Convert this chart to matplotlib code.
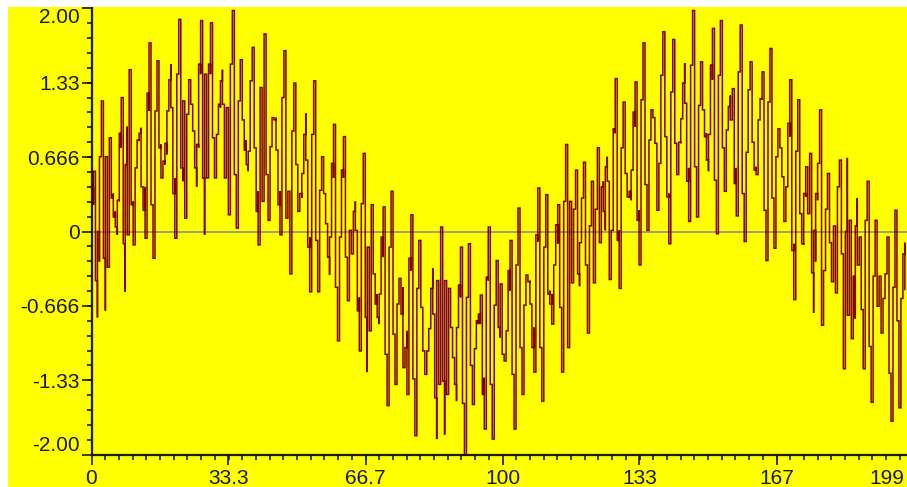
import numpy as np
import matplotlib.pyplot as plt
from matplotlib.patches import Rectangle
from matplotlib.ticker import MultipleLocator
from matplotlib.transforms import ScaledTranslation

# (low, high) of each vertical stroke, read left to right
part1 = [(0.15, 0.39), (0.24, 0.54), (-0.44, 0.21), (-0.77, 0.00), (-0.27, 0.67), (0.67, 1.17),
         (-0.24, 0.69), (-0.71, 0.67), (-0.32, 0.45), (0.36, 0.84), (0.30, 0.69), (0.13, 0.34),
         (0.04, 0.18), (-0.03, 0.28), (0.27, 0.88), (0.75, 1.20), (-0.11, 0.75), (-0.54, 0.60),
         (-0.03, 0.94), (0.94, 1.45), (0.24, 1.05), (-0.12, 0.27), (0.12, 0.57), (0.57, 0.82),
         (0.81, 0.88), (0.40, 0.93), (0.19, 0.40), (-0.06, 0.40), (0.40, 1.24), (1.08, 1.69),
         (0.24, 1.20)]
part2 = [(-0.24, 0.24), (0.24, 1.08), (1.08, 1.53), (0.75, 1.26), (0.48, 0.78), (0.57, 0.63),
         (0.60, 0.79), (0.69, 1.08), (1.08, 1.36), (1.11, 1.50), (0.34, 1.11), (-0.06, 0.48),
         (0.45, 1.41), (1.41, 1.90), (0.57, 1.45), (0.45, 1.17), (0.12, 0.57), (0.45, 1.05),
         (1.05, 1.36), (1.14, 1.27), (0.90, 1.12), (0.57, 0.90), (0.40, 0.78), (0.75, 1.50),
         (1.41, 1.89), (0.48, 1.41), (-0.03, 1.41), (0.48, 1.41), (1.41, 1.50), (1.41, 1.87),
         (0.84, 1.50), (0.48, 0.84), (0.63, 0.87), (0.87, 1.14), (1.11, 1.35), (1.14, 1.45),
         (0.48, 1.14)]
part3 = [(0.48, 1.11), (0.15, 0.63), (0.63, 1.50), (1.50, 1.98), (0.51, 1.48), (0.03, 0.51),
         (0.42, 1.17), (1.17, 1.54), (1.00, 1.33), (0.73, 1.00), (0.60, 0.82), (0.54, 0.72),
         (0.81, 1.35), (1.35, 1.65), (0.75, 1.35), (0.18, 0.75), (-0.12, 0.36), (0.36, 1.29),
         (0.27, 1.29), (1.32, 1.77), (0.51, 1.33), (0.10, 0.51), (0.34, 0.76), (0.76, 1.02),
         (1.00, 1.02), (0.73, 1.02), (0.24, 0.73), (-0.03, 0.36), (0.36, 1.20), (1.20, 1.62),
         (0.12, 1.11), (0.12, 0.36), (-0.38, 0.12), (0.09, 0.90), (0.90, 1.33), (0.60, 1.05)]
part4 = [(0.18, 0.46), (0.22, 0.34), (0.30, 0.52), (0.52, 0.87), (0.64, 1.06), (-0.14, 0.64),
         (-0.54, -0.05), (-0.05, 0.87), (0.87, 1.35), (-0.08, 0.85), (-0.54, -0.08), (-0.23, 0.37),
         (0.37, 0.67), (0.34, 0.55), (0.07, 0.34), (-0.23, 0.07), (-0.39, -0.05), (-0.05, 0.61),
         (0.48, 0.96), (-0.50, 0.48), (-0.98, -0.50), (-0.66, -0.05), (-0.05, 0.55), (0.48, 0.85),
         (-0.23, 0.48), (-0.62, -0.23), (-0.46, 0.01), (-0.20, 0.01), (-0.08, 0.18), (0.01, 0.27),
         (-0.71, -0.08), (-1.07, -0.59), (-0.59, 0.25), (0.25, 0.70)]
part5 = [(-0.77, 0.21), (-1.26, -0.14), (-0.89, -0.14), (-0.14, 0.24), (-0.38, 0.03), (-0.65, -0.38),
         (-0.77, -0.56), (-0.83, -0.56), (-0.56, -0.05), (-0.23, 0.22), (-1.10, -0.23), (-1.56, -1.10),
         (-1.10, -0.14), (-0.11, 0.36), (-0.92, -0.11), (-1.37, -0.92), (-1.13, -0.65), (-0.65, -0.42),
         (-0.74, -0.47), (-1.22, -0.50), (-1.22, -1.04), (-1.46, -0.89), (-0.89, -0.24), (-0.35, 0.15),
         (-1.32, -0.35), (-1.83, -1.32), (-1.38, -0.51), (-0.51, -0.08), (-0.68, -0.29), (-1.07, -0.68),
         (-1.28, -1.07), (-1.19, -1.07), (-1.07, -0.87), (-0.87, -0.51)]
part6 = [(-0.74, -0.33), (-1.49, -0.74), (-1.86, -0.44), (-1.37, -0.44), (-0.44, 0.04), (-1.34, -0.44),
         (-1.82, -0.44), (-1.46, -0.83), (-0.83, -0.51), (-0.86, -0.65), (-1.13, -0.86), (-1.37, -1.13),
         (-1.52, -0.86), (-0.86, -0.48), (-0.59, -0.14), (-1.54, -0.60), (-2.01, -1.54), (-1.52, -0.59),
         (-0.59, -0.11), (-1.20, -0.48), (-1.55, -1.20), (-1.20, -1.05), (-1.05, -0.80), (-0.83, -0.74),
         (-0.83, -0.57), (-1.46, -0.83), (-1.77, -1.31), (-1.31, -0.41), (-0.44, 0.04), (-1.37, -0.44),
         (-1.86, -1.37), (-1.44, -0.66), (-0.66, -0.26), (-0.86, -0.53)]
part7 = [(-0.95, -0.47), (-1.10, -0.95), (-1.16, -1.10), (-1.16, -0.89), (-0.89, -0.35), (-0.53, -0.08),
         (-1.28, -0.52), (-1.77, -1.28), (-1.26, -0.30), (-0.30, 0.21), (-1.04, -0.21), (-1.46, -1.04),
         (-1.16, -0.66), (-0.66, -0.39), (-0.45, -0.39), (-0.65, -0.44), (-1.04, -0.65), (-1.26, -0.86),
         (-0.86, -0.03), (-0.09, 0.39), (-1.04, -0.09), (-1.52, -1.04), (-1.04, -0.14), (-0.14, 0.33),
         (-0.56, 0.01), (-0.65, -0.53), (-0.83, -0.56), (-0.56, -0.30), (-0.30, 0.06), (-0.11, 0.24),
         (-0.68, -0.11), (-1.26, -0.68), (-0.68, 0.27), (0.27, 0.78), (-1.04, 0.27)]
part8 = [(-0.46, 0.27), (-0.46, -0.11), (-0.24, 0.20), (0.20, 0.55), (-0.38, 0.20), (-0.49, -0.10),
         (-0.10, 0.30), (0.30, 0.62), (-0.30, 0.30), (-0.91, -0.30), (-0.73, 0.05), (0.05, 0.45),
         (-0.46, 0.05), (-0.39, 0.20), (0.20, 0.75), (-0.10, 0.40), (0.00, 0.40)]
part9 = [(0.18, 0.45), (0.01, 0.58), (0.45, 0.67), (-0.43, 0.45), (-0.43, 0.01), (0.01, 0.92),
         (0.88, 1.37), (-0.08, 0.88), (-0.51, 0.01), (0.01, 0.75), (0.75, 1.16), (0.52, 0.94),
         (0.31, 0.52), (0.30, 0.36), (0.28, 0.55), (0.55, 1.07), (0.94, 1.34), (0.10, 0.94),
         (-0.30, 0.19), (0.19, 1.18), (1.18, 1.69), (0.42, 1.24), (0.01, 0.42), (0.28, 0.82),
         (0.82, 1.09), (1.02, 1.04), (0.79, 1.00), (0.19, 0.79), (0.19, 0.61), (0.61, 1.40),
         (1.40, 1.79), (0.85, 1.46), (0.31, 0.85), (-0.11, 0.34), (0.34, 1.25), (1.25, 1.72),
         (0.79, 1.40), (0.51, 0.79), (0.61, 0.80), (0.79, 1.01), (1.01, 1.33), (1.15, 1.51),
         (0.45, 1.15), (0.09, 0.57), (0.57, 1.49), (1.49, 1.98), (0.58, 1.49), (0.13, 0.58),
         (0.49, 1.13), (1.13, 1.52), (1.09, 1.37), (0.85, 1.09), (0.64, 0.88), (0.54, 0.87),
         (0.87, 1.49), (1.36, 1.82), (0.46, 1.36), (-0.02, 0.46), (0.46, 1.40), (1.40, 1.89)]
part10 = [(0.75, 1.49), (0.36, 0.75), (0.52, 0.91), (0.91, 1.12), (1.00, 1.22), (1.07, 1.28),
          (0.43, 1.07), (0.14, 0.57), (0.57, 1.43), (1.43, 1.85), (0.34, 1.36), (-0.09, 0.34),
          (0.34, 0.71), (0.71, 1.27), (1.27, 1.52), (0.80, 1.27), (0.55, 0.80), (0.51, 0.58),
          (0.55, 1.00), (1.00, 1.19), (1.18, 1.43), (0.19, 1.18), (-0.26, 0.19), (0.19, 1.16),
          (1.16, 1.64), (0.30, 1.19), (-0.15, 0.30), (0.30, 0.67), (0.67, 0.92), (0.75, 0.85),
          (0.49, 0.75), (0.09, 0.49), (0.09, 0.40), (0.40, 0.97), (0.85, 1.36), (-0.17, 0.85),
          (-0.61, -0.11), (-0.17, 0.72), (0.72, 1.18), (0.16, 0.83), (-0.11, 0.16), (-0.12, 0.34),
          (0.31, 0.58), (0.16, 0.58), (0.58, 0.70), (-0.37, 0.70), (-0.73, 0.01), (-0.27, 0.34),
          (0.28, 0.61), (0.61, 1.09)]
part11 = [(-0.84, 0.61), (-0.84, -0.35), (-0.35, 0.20), (0.20, 0.52), (-0.10, 0.20), (-0.45, -0.10),
          (-0.45, 0.05), (-0.55, 0.05), (0.05, 0.40), (0.40, 0.64), (-0.20, 0.40), (-1.23, -0.20),
          (-0.75, 0.00), (-0.75, 0.66), (-0.30, 0.10), (-0.96, -0.30), (-0.96, -0.40), (-0.78, 0.05),
          (-0.30, 0.30), (-0.30, -0.05), (-0.70, -0.05), (-1.23, -0.70), (-0.60, 0.10), (0.10, 0.45),
          (-1.03, 0.10), (-1.53, -1.03), (-1.11, -0.40), (-0.40, 0.10), (-0.67, -0.20), (-0.67, -0.40),
          (-0.91, -0.60), (-0.91, -0.60), (-0.60, -0.38), (-0.38, -0.05), (-1.27, -0.05), (-1.70, -1.27),
          (-1.21, -0.50), (-0.50, 0.19), (-0.80, 0.19), (-1.58, -0.80), (-1.30, -0.60), (-0.60, -0.20),
          (-0.52, -0.10)]

strokes = (part1 + part2 + part3 + part4 + part5 + part6 + part7 + part8 + part9
           + part10 + part11)
x_last = 197.9  # position of the last stroke

yticks = [-2.0, -1.333, -0.666, 0.0, 0.666, 1.333, 2.0]
ylabels = ['-2.00', '-1.33', '-0.666', '0', '0.666', '1.33', '2.00']
xticks = [0, 33.33, 66.67, 100, 133.33, 166.67, 199]
xlabels = ['0', '33.3', '66.7', '100', '133', '167', '199']

# join the strokes into one stepped path: vertical stroke, short horizontal, next stroke
xs = np.linspace(0, x_last, len(strokes))
px, py = [], []
prev = strokes[0][0]
for xi, (lo, hi) in zip(xs, strokes):
    a, b = (lo, hi) if abs(lo - prev) <= abs(hi - prev) else (hi, lo)
    px += [xi, xi, xi]
    py += [prev, a, b]
    prev = b
px.append(x_last)
py.append(prev)
# horizontal runs between strokes
sx, sy = [px[0]], [py[0]]
for i in range(1, len(px)):
    if px[i] != sx[-1]:
        sx.append(px[i])
        sy.append(sy[-1])
    sx.append(px[i])
    sy.append(py[i])

plt.rcParams['font.family'] = ['Liberation Sans', 'DejaVu Sans']
W, H = 907, 487
fig = plt.figure(figsize=(W / 100, H / 100), dpi=100, facecolor='#ffff00')
# white margins at the top and left edge
fig.add_artist(Rectangle((0, (H - 7) / H), 1, 7 / H, transform=fig.transFigure,
                         facecolor='white', edgecolor='none', zorder=-5))
fig.add_artist(Rectangle((0, 0), 8 / W, 1, transform=fig.transFigure,
                         facecolor='white', edgecolor='none', zorder=-5))
ax = fig.add_axes([91.5 / W, (H - 454.7) / H, (909.4 - 91.5) / W, (454.7 - 8.3) / H])
ax.set_facecolor('#ffff00')

ax.axhline(0, color='#8484a0', lw=1.1, zorder=1)
ax.plot(sx, sy, color='#800000', lw=1.1, zorder=2, solid_joinstyle='miter')

ax.set_xlim(0, 199)
ax.set_ylim(-2, 2)
for s in ['top', 'right']:
    ax.spines[s].set_visible(False)
for s in ['left', 'bottom']:
    ax.spines[s].set_color('#1a1a1a')
    ax.spines[s].set_linewidth(1.6)

ax.set_yticks(yticks)
ax.set_yticklabels(ylabels)
ax.set_xticks(xticks)
ax.set_xticklabels(xlabels)
ax.yaxis.set_minor_locator(MultipleLocator(0.6667 / 5))
ax.xaxis.set_minor_locator(MultipleLocator(33.333 / 10))
ax.tick_params(which='major', length=7.5, width=1.2, color='#1a1a1a', labelsize=15,
               labelcolor='#1a1a1a')
ax.tick_params(which='minor', length=3.5, width=1.2, color='#1a1a1a')
ax.tick_params(axis='y', pad=1)
ax.tick_params(axis='x', pad=3)

ylab = ax.get_yticklabels()
ylab[0].set_va('bottom')
ylab[-1].set_va('top')
last = ax.get_xticklabels()[-1]
last.set_ha('right')
last.set_transform(last.get_transform() + ScaledTranslation(-5 / 100, 0, fig.dpi_scale_trans))

fig.savefig('out.png', dpi=100, facecolor=fig.get_facecolor())
